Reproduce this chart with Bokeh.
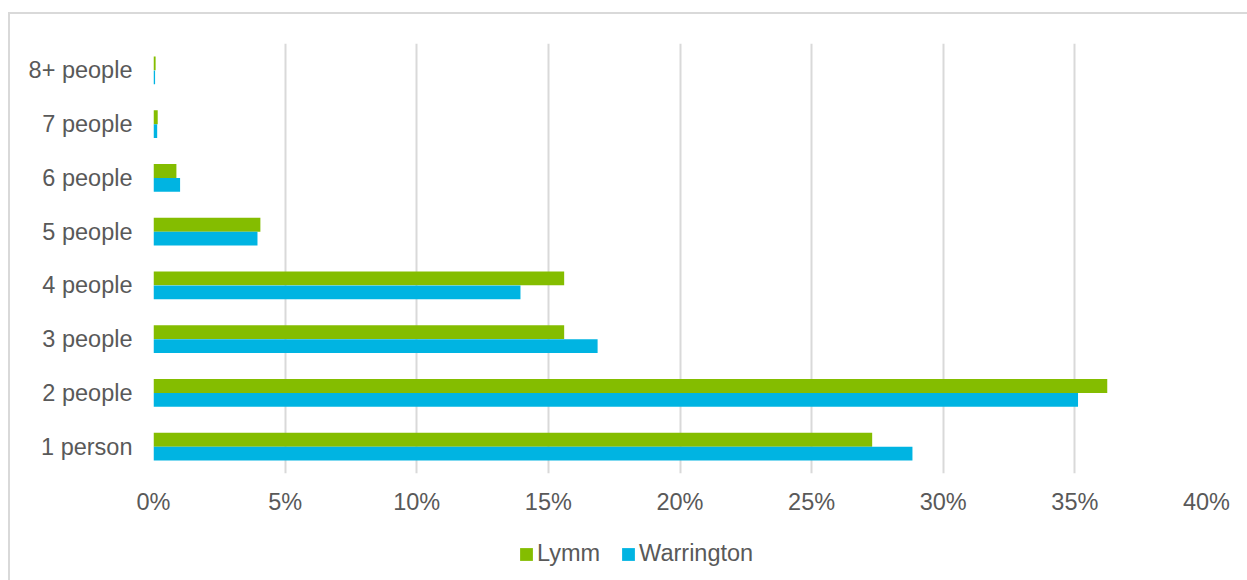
from bokeh.plotting import figure
from bokeh.layouts import column
from bokeh.models import (ColumnDataSource, FactorRange, Range1d, FixedTicker,
                          Legend, LegendItem)
from bokeh.transform import dodge
from bokeh.embed import file_html
from bokeh.resources import INLINE

categories = ["1 person", "2 people", "3 people", "4 people",
              "5 people", "6 people", "7 people", "8+ people"]
lymm = [27.3, 36.23, 15.6, 15.6, 4.06, 0.87, 0.16, 0.08]
warrington = [28.83, 35.12, 16.87, 13.94, 3.95, 1.01, 0.14, 0.06]
x_ticks = [0, 5, 10, 15, 20, 25, 30, 35, 40]
x_tick_labels = ["0%", "5%", "10%", "15%", "20%", "25%", "30%", "35%", "40%"]
series_names = ["Lymm", "Warrington"]

GREEN = "#84BD00"
BLUE = "#00B4E2"
TEXT = "#595959"
FONT = "Liberation Sans"
FS = "23.5px"

src = ColumnDataSource(dict(cat=categories, lymm=lymm, warrington=warrington))

p = figure(width=1237, height=516,
           y_range=FactorRange(*categories), x_range=Range1d(0, 40),
           output_backend="svg", toolbar_location=None,
           min_border_left=143, min_border_right=41,
           min_border_top=29, min_border_bottom=57)
p.outline_line_color = None
p.background_fill_color = "white"
p.border_fill_color = "white"

r1 = p.hbar(y=dodge("cat", 0.13, range=p.y_range), right="lymm", left=0,
            height=0.26, source=src, fill_color=GREEN, line_color=None)
r2 = p.hbar(y=dodge("cat", -0.13, range=p.y_range), right="warrington", left=0,
            height=0.26, source=src, fill_color=BLUE, line_color=None)

# axes
p.xaxis.ticker = FixedTicker(ticks=x_ticks)
p.xaxis.major_label_overrides = {t: l for t, l in zip(x_ticks, x_tick_labels)}
for ax in (p.xaxis, p.yaxis):
    ax.axis_line_color = None
    ax.major_tick_line_color = None
    ax.minor_tick_line_color = None
    ax.major_tick_out = 0
    ax.major_tick_in = 0
    ax.major_label_text_font = FONT
    ax.major_label_text_font_size = FS
    ax.major_label_text_color = TEXT
p.xaxis.major_label_standoff = 15
p.yaxis.major_label_standoff = 21

p.xgrid.grid_line_color = "#d9d9d9"
p.xgrid.grid_line_width = 2
p.ygrid.grid_line_color = None

# legend strip (separate figure below the chart); proxy glyphs lie outside its range
lf = figure(width=1237, height=50, x_range=Range1d(0, 1), y_range=Range1d(0, 1),
            x_axis_type=None, y_axis_type=None,
            output_backend="svg", toolbar_location=None,
            min_border=0, min_border_left=0, min_border_right=0,
            min_border_top=0, min_border_bottom=0)
lf.outline_line_color = None
lf.border_fill_color = "white"
d1 = lf.hbar(y=[-10], right=[0], left=0, height=0.1, fill_color=GREEN, line_color=None)
d2 = lf.hbar(y=[-10], right=[0], left=0, height=0.1, fill_color=BLUE, line_color=None)

legend = Legend(items=[LegendItem(label=series_names[0], renderers=[d1]),
                       LegendItem(label=series_names[1], renderers=[d2])],
                orientation="horizontal", location=(365, 13),
                glyph_width=16, glyph_height=16, label_standoff=3, spacing=20,
                padding=0, margin=0, border_line_color=None,
                background_fill_alpha=0,
                label_text_font=FONT, label_text_font_size=FS,
                label_text_color=TEXT)
lf.add_layout(legend)

layout = column(p, lf, spacing=0)
layout.styles = {"margin-left": "8px", "margin-top": "12px",
                 "border-left": "2px solid #d9d9d9", "border-top": "2px solid #d9d9d9"}

open("out.html", "w").write(file_html(layout, INLINE))
